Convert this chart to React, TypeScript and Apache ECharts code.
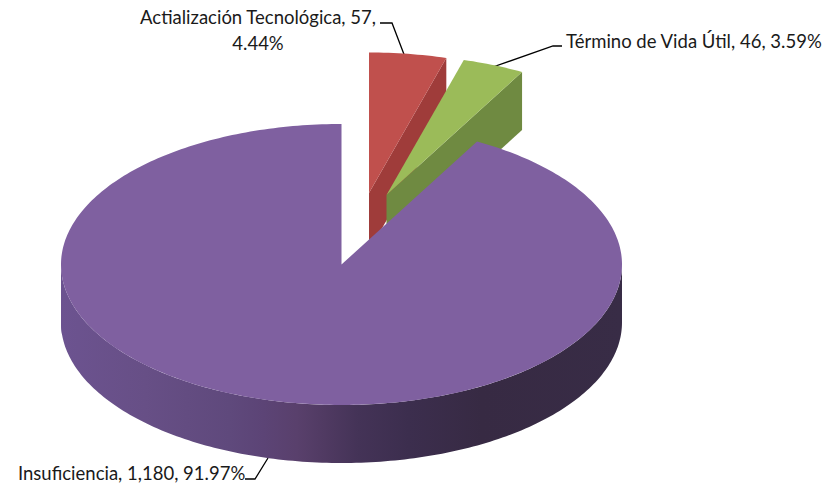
import React, { useEffect, useRef } from "react";
import * as echarts from "echarts";

const categories = ["Actialización Tecnológica", "Término de Vida Útil", "Insuficiencia"];
const values = [57, 46, 1180];
const valueLabels = ["57", "46", "1,180"];
const percentLabels = ["4.44%", "3.59%", "91.97%"];

const topColors = ["#c0504d", "#9bbb59", "#7f60a0"];
const sideColors = ["#9f3c3a", "#6f8a41", "#5a4478"];
const explode = [[27.5, -71.5], [45, -69.5], [0, 0]];

const CX = 341.5, CY = 264.5, RX = 280.5, RY = 140.5, DEPTH = 58;
const total = values.reduce((a, b) => a + b, 0);
const rad = (d: number) => (d * Math.PI) / 180;
const pt = (ox: number, oy: number, deg: number, dy = 0): number[] => [
  ox + RX * Math.sin(rad(deg)),
  oy - RY * Math.cos(rad(deg)) + dy,
];
const arc = (ox: number, oy: number, a: number, b: number, dy = 0) => {
  const n = Math.max(2, Math.ceil(Math.abs(b - a) / 1));
  const out: number[][] = [];
  for (let i = 0; i <= n; i++) out.push(pt(ox, oy, a + ((b - a) * i) / n, dy));
  return out;
};

const wallGradient = {
  type: "linear", x: 0, y: 0, x2: 1, y2: 0,
  colorStops: [
    { offset: 0, color: "#6c5390" },
    { offset: 0.15, color: "#674f86" },
    { offset: 0.3, color: "#5f497c" },
    { offset: 0.36, color: "#5c4476" },
    { offset: 0.42, color: "#59406c" },
    { offset: 0.47, color: "#503a62" },
    { offset: 0.53, color: "#443357" },
    { offset: 0.62, color: "#3c2e4e" },
    { offset: 0.75, color: "#372a43" },
    { offset: 1, color: "#382c46" },
  ],
};

const renderSlice = (params: any, api: any) => {
  const i = params.dataIndex;
  let start = 0;
  for (let k = 0; k < i; k++) start += (values[k] / total) * 360;
  const end = start + (api.value(0) / total) * 360;
  const ox = CX + explode[i][0];
  const oy = CY + explode[i][1];
  const children: any[] = [];

  // radial wall at the clockwise end of the small slices, seen from above-front
  if (end < 90) {
    const e = pt(ox, oy, end);
    children.push({
      type: "polygon",
      shape: { points: [[ox, oy], e, [e[0], e[1] + DEPTH], [ox, oy + DEPTH]] },
      style: { fill: sideColors[i] },
    });
  }
  // outer wall, only its front half shows
  const a = Math.max(start, 90), b = Math.min(end, 270);
  if (b > a) {
    const upper = arc(ox, oy, a, b);
    const lower = arc(ox, oy, b, a, DEPTH);
    children.push({
      type: "polygon",
      shape: { points: [...upper, ...lower] },
      style: { fill: wallGradient },
    });
  }
  // left flank of the pie body below the widest point
  if (end > 270 && i === 2) {
    children.push({
      type: "polygon",
      shape: { points: [...arc(ox, oy, 270, 265), ...arc(ox, oy, 265, 270, DEPTH)] },
      style: { fill: "#6c5390" },
    });
  }
  // top face
  children.push({
    type: "polygon",
    shape: { points: [[ox, oy], ...arc(ox, oy, start, end)] },
    style: { fill: topColors[i] },
  });
  return { type: "group", children };
};

const labelFont = { fontFamily: "Lato", fontSize: 18.5, fill: "#1a1a1a" };
const leader = (points: number[][]) => ({
  type: "polyline",
  shape: { points },
  style: { stroke: "#000", lineWidth: 1.3, fill: "none" },
});

export default function App() {
  const ref = useRef<HTMLDivElement>(null);
  useEffect(() => {
    const chart = echarts.init(ref.current!, undefined, { renderer: "svg" });
    chart.setOption({
      animation: false,
      backgroundColor: "#fff",
      series: [
        {
          type: "custom",
          coordinateSystem: "none",
          renderItem: renderSlice,
          data: values.map((v, i) => ({ name: categories[i], value: [v] })),
          silent: true,
        },
      ],
      graphic: [
        leader([[380, 23], [392, 23], [405, 57]]),
        leader([[490, 68], [553, 46], [562, 46]]),
        leader([[268, 458], [255, 479], [245, 479]]),
        {
          type: "text", x: 258, y: 4,
          style: {
            ...labelFont,
            text: `${categories[0]}, ${valueLabels[0]},\n${percentLabels[0]}`,
            align: "center", verticalAlign: "top", lineHeight: 26,
          },
        },
        {
          type: "text", x: 566, y: 41,
          style: {
            ...labelFont,
            text: `${categories[1]}, ${valueLabels[1]}, ${percentLabels[1]}`,
            align: "left", verticalAlign: "middle",
          },
        },
        {
          type: "text", x: 18, y: 473,
          style: {
            ...labelFont,
            text: `${categories[2]}, ${valueLabels[2]}, ${percentLabels[2]}`,
            align: "left", verticalAlign: "middle",
          },
        },
      ],
    });
    return () => chart.dispose();
  }, []);
  return <div ref={ref} style={{ position: "absolute", left: 0, top: 0, width: 825, height: 487 }} />;
}
